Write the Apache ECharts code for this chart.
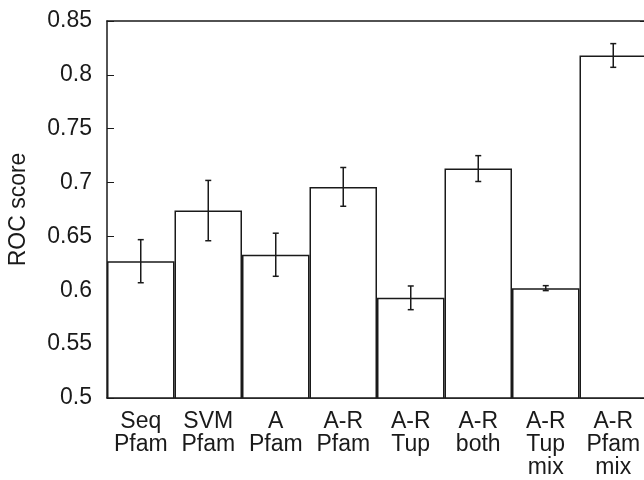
<!DOCTYPE html>
<html>
<head>
  <meta charset="utf-8" />
  <title>ROC score</title>
  <script src="https://cdn.jsdelivr.net/npm/echarts@6/dist/echarts.min.js"></script>
  <style>
    html, body { margin: 0; padding: 0; background: #fff; }
  </style>
</head>
<body>
  <div id="main" style="width: 644px;height:480px;"></div>
  <script type="text/javascript">
    // methods on the x axis
    var methods = ['Seq\nPfam', 'SVM\nPfam', 'A\nPfam', 'A-R\nPfam', 'A-R\nTup', 'A-R\nboth', 'A-R\nTup\nmix', 'A-R\nPfam\nmix'];
    // mean ROC score and its error (half length of the bar)
    var scores = [0.627, 0.674, 0.633, 0.696, 0.593, 0.713, 0.602, 0.818];
    var errors = [0.020, 0.028, 0.020, 0.018, 0.011, 0.012, 0.0023, 0.011];
    var yTicks = { min: 0.5, max: 0.85, step: 0.05 };

    var lineColor = '#1a1a1a';
    var font = 'Liberation Sans, Arial, sans-serif';

    var myChart = echarts.init(document.getElementById('main'));

    var errData = methods.map(function (m, i) {
      return [i, scores[i] - errors[i], scores[i] + errors[i]];
    });

    var option = {
      animation: false,
      backgroundColor: '#fff',
      textStyle: { fontFamily: font, color: lineColor },
      // no auto-shrinking: the plot runs a little past the right edge, as in the original
      grid: { left: 107, top: 21, right: -3, bottom: 82, containLabel: false, outerBoundsMode: 'none' },
      xAxis: [
        {
          type: 'category',
          data: methods,
          position: 'bottom',
          axisLine: { lineStyle: { color: lineColor, width: 1.5 } },
          axisTick: { inside: true, length: 6, alignWithLabel: true, lineStyle: { color: lineColor, width: 1 } },
          axisLabel: { fontSize: 23, lineHeight: 23, margin: 12, color: lineColor, fontFamily: font, interval: 0 }
        },
        {
          type: 'category',
          data: methods,
          position: 'top',
          axisLine: { lineStyle: { color: lineColor, width: 1.5 } },
          axisTick: { inside: true, length: 6, alignWithLabel: true, lineStyle: { color: lineColor, width: 1 } },
          axisLabel: { show: false }
        }
      ],
      yAxis: [
        {
          type: 'value',
          min: yTicks.min,
          max: yTicks.max,
          interval: yTicks.step,
          name: 'ROC score',
          nameLocation: 'middle',
          nameGap: 77,
          nameTextStyle: { fontSize: 23, color: lineColor, fontFamily: font },
          axisLine: { show: true, lineStyle: { color: lineColor, width: 1.5 } },
          axisTick: { show: true, inside: true, length: 7, lineStyle: { color: lineColor, width: 1 } },
          axisLabel: {
            fontSize: 23, margin: 15, color: lineColor, fontFamily: font,
            formatter: function (v) { return String(+v.toFixed(2)); }
          },
          splitLine: { show: false }
        },
        {
          type: 'value',
          min: yTicks.min,
          max: yTicks.max,
          interval: yTicks.step,
          position: 'right',
          axisLine: { show: true, lineStyle: { color: lineColor, width: 1.5 } },
          axisTick: { show: true, inside: true, length: 7, lineStyle: { color: lineColor, width: 1 } },
          axisLabel: { show: false },
          splitLine: { show: false }
        }
      ],
      series: [
        {
          type: 'bar',
          data: scores,
          barCategoryGap: '0%',
          itemStyle: { color: '#fff', borderColor: lineColor, borderWidth: 1.5 }
        },
        {
          type: 'custom',
          data: errData,
          z: 10,
          renderItem: function (params, api) {
            var x = api.value(0);
            var lo = api.coord([x, api.value(1)]);
            var hi = api.coord([x, api.value(2)]);
            var half = 3;
            var style = { stroke: lineColor, lineWidth: 1.5 };
            return {
              type: 'group',
              children: [
                { type: 'line', shape: { x1: lo[0], y1: lo[1], x2: hi[0], y2: hi[1] }, style: style },
                { type: 'line', shape: { x1: lo[0] - half, y1: lo[1], x2: lo[0] + half, y2: lo[1] }, style: style },
                { type: 'line', shape: { x1: hi[0] - half, y1: hi[1], x2: hi[0] + half, y2: hi[1] }, style: style }
              ]
            };
          }
        }
      ]
    };
    myChart.setOption(option);
  </script>
</body>
</html>
